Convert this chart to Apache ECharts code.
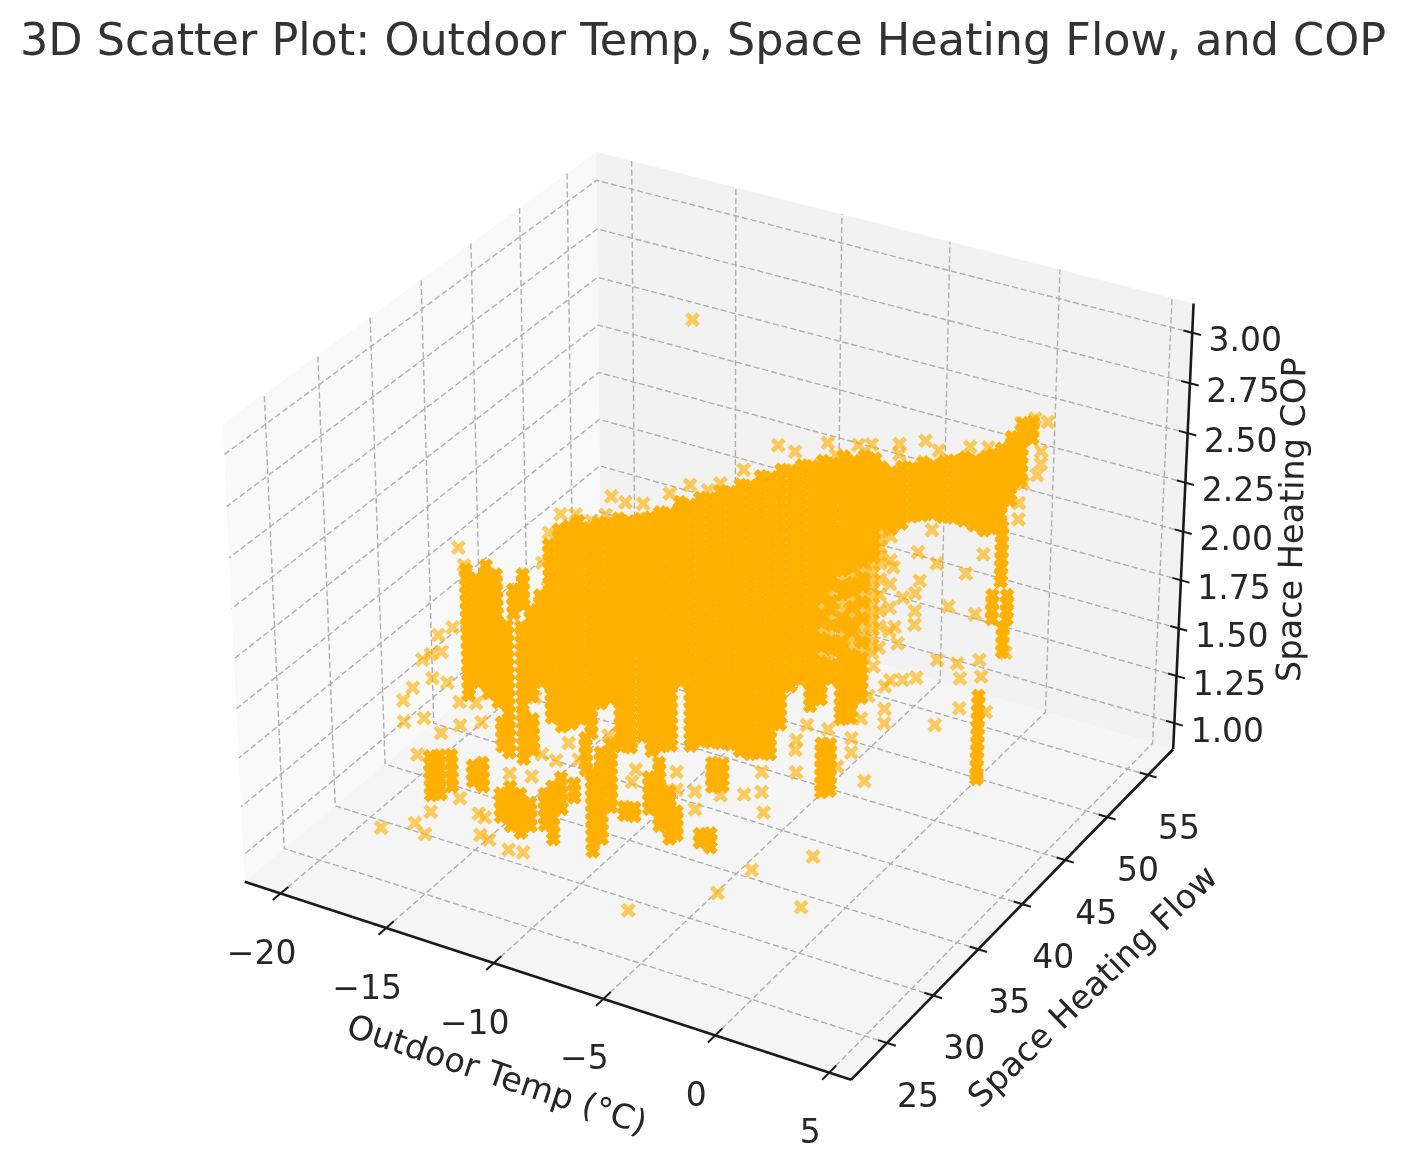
<!DOCTYPE html>
<html><head><meta charset="utf-8"><style>html,body{margin:0;background:#fff}#c{width:1406px;height:1173px}</style>
<script src="https://cdn.jsdelivr.net/npm/echarts@6/dist/echarts.min.js"></script></head><body><div id="c"></div>
<script>
const titleText='3D Scatter Plot: Outdoor Temp, Space Heating Flow, and COP';
const tempTicks=[-20,-15,-10,-5,0,5];
const flowTicks=[25,30,35,40,45,50,55];
const copTicks=[1,1.25,1.5,1.75,2,2.25,2.5,2.75,3];
const tempLim=[-21.72,5.95], flowLim=[21.2,58.13], copLim=[0.861,3.144];
// readings grouped as [temp, flow, cop, cop, ...]; dense = where marks overlap until the colour saturates
const denseReadings=[
[-14.95,35,1.80,1.76,1.72,1.68,1.64,1.60,1.56,1.52,1.48,1.44,1.40,1.35,1.31,1.27,1.23,1.19,1.15,1.12],
[-14.49,35,1.90,1.86,1.82,1.78,1.74,1.70,1.66,1.62,1.58,1.54,1.50,1.46,1.34,1.30,1.26,1.22,1.18],
[-14.03,35,1.99,1.95,1.91,1.87,1.83,1.79,1.75,1.71,1.67,1.63,1.59,1.55],
[-13.57,35,2.26,2.22,2.18,2.14,2.10,2.06,2.02,1.98,1.94,1.90,1.86,1.82,1.78,1.74,1.70,1.66,1.62,1.58,1.54,1.50,1.46,1.42,1.38],
[-13.1,35,2.35,2.31,2.27,2.23,2.19,2.15,2.11,2.07,2.03,1.99,1.95,1.91,1.87,1.83,1.79,1.75,1.71,1.67,1.63,1.59,1.55,1.51,1.47,1.43,1.39,1.35],
[-12.65,35,2.38,2.34,2.30,2.26,2.22,2.18,2.14,2.10,2.06,2.02,1.98,1.94,1.90,1.86,1.82,1.78,1.74,1.70,1.66,1.62,1.58,1.54,1.50,1.46,1.42,1.38],
[-12.19,35,2.42,2.38,2.34,2.30,2.26,2.22,2.18,2.14,2.10,2.06,2.02,1.98,1.94,1.90,1.86,1.82,1.78,1.74,1.70,1.66,1.62,1.58,1.54,1.50,1.46,1.42],
[-11.72,35,2.40,2.36,2.32,2.28,2.24,2.20,2.16,2.12,2.08,2.04,2.00,1.96,1.92,1.88,1.84,1.80,1.76,1.72,1.68,1.64,1.60,1.56,1.52,1.48,1.44,1.40,1.36],
[-11.26,35,2.44,2.40,2.36,2.32,2.28,2.24,2.20,2.16,2.12,2.08,2.04,2.00,1.96,1.92,1.88,1.84,1.80,1.76,1.72,1.68,1.64,1.60,1.56,1.53],
[-10.8,35,2.45,2.41,2.37,2.33,2.29,2.25,2.21,2.17,2.13,2.09,2.05,2.01,1.97,1.93,1.89,1.85,1.81,1.77,1.73,1.69,1.65,1.61,1.57],
[-10.34,35,2.49,2.45,2.41,2.37,2.33,2.29,2.25,2.21,2.17,2.13,2.09,2.05,2.01,1.97,1.93,1.89,1.85,1.81,1.77,1.73,1.69,1.65,1.61,1.57,1.53,1.49,1.45,1.41,1.37,1.34],
[-9.88,35,2.49,2.45,2.41,2.37,2.33,2.29,2.25,2.21,2.17,2.13,2.09,2.05,2.01,1.97,1.93,1.89,1.85,1.81,1.77,1.73,1.69,1.65,1.61,1.57,1.53,1.49,1.45,1.41,1.37,1.35],
[-11.59,40,2.25,2.21,2.17,2.13,2.09,2.05,2.01,1.97,1.93,1.89,1.85,1.81,1.77,1.73,1.69,1.65,1.61,1.57,1.53,1.49,1.45,1.41,1.37,1.33,1.29,1.25,1.21,1.17,1.13],
[-11.13,40,2.27,2.23,2.19,2.15,2.11,2.07,2.03,1.99,1.95,1.91,1.87,1.83,1.79,1.75,1.71,1.67,1.63,1.59,1.55,1.51,1.47,1.43,1.39,1.35,1.31,1.27,1.23,1.19,1.15,1.11,1.07],
[-10.67,40,2.31,2.27,2.23,2.19,2.15,2.11,2.07,2.03,1.99,1.95,1.91,1.87,1.83,1.79,1.75,1.71,1.67,1.63,1.59,1.55,1.51,1.47,1.43,1.39,1.35,1.31,1.27,1.23,1.19,1.15,1.11],
[-10.21,40,2.32,2.28,2.24,2.20,2.16,2.12,2.08,2.04,2.00,1.96,1.92,1.88,1.84,1.80,1.76,1.72,1.68,1.64,1.60,1.56,1.52,1.48,1.44,1.40,1.36,1.32,1.28,1.24,1.20,1.16,1.13],
[-9.75,40,2.39,2.35,2.31,2.27,2.23,2.19,2.15,2.11,2.07,2.03,1.99,1.95,1.91,1.87,1.83,1.79,1.75,1.71,1.67,1.63,1.59,1.55,1.51,1.48],
[-9.29,40,2.39,2.35,2.31,2.27,2.23,2.19,2.15,2.11,2.07,2.03,1.99,1.95,1.91,1.87,1.83,1.79,1.75,1.71,1.67,1.63,1.59,1.55,1.51,1.47,1.43,1.39,1.35,1.31,1.27,1.23,1.19,1.16],
[-8.82,40,2.44,2.40,2.36,2.32,2.28,2.24,2.20,2.16,2.12,2.08,2.04,2.00,1.96,1.92,1.88,1.84,1.80,1.76,1.72,1.68,1.64,1.60,1.56,1.52,1.48,1.44,1.40,1.36,1.32,1.28,1.24,1.20],
[-8.36,40,2.45,2.41,2.37,2.33,2.29,2.25,2.21,2.17,2.13,2.09,2.05,2.01,1.97,1.93,1.89,1.85,1.81,1.77,1.73,1.69,1.65,1.61,1.57,1.53,1.49,1.45,1.41,1.37,1.33,1.29,1.25,1.21],
[-7.9,40,2.50,2.46,2.42,2.38,2.34,2.30,2.26,2.22,2.18,2.14,2.10,2.06,2.02,1.98,1.94,1.90,1.86,1.82,1.78,1.74,1.70,1.66,1.62,1.58,1.54,1.50,1.46,1.42,1.38,1.34,1.30,1.26,1.22],
[-7.44,40,2.51,2.47,2.43,2.39,2.35,2.31,2.27,2.23,2.19,2.15,2.11,2.07,2.03,1.99,1.95,1.91,1.87,1.83,1.79,1.75,1.71,1.67,1.63,1.59,1.55,1.51,1.47,1.43,1.39,1.35,1.31,1.27,1.23],
[-6.98,40,2.56,2.52,2.48,2.44,2.40,2.36,2.32,2.28,2.24,2.20,2.16,2.12,2.08,2.04,2.00,1.96,1.92,1.88,1.84,1.80,1.76,1.72,1.68,1.64,1.60,1.56,1.52,1.48,1.44,1.40,1.36,1.32,1.28,1.24,1.21],
[-6.52,40,2.57,2.53,2.49,2.45,2.41,2.37,2.33,2.29,2.25,2.21,2.17,2.13,2.09,2.05,2.01,1.97,1.93,1.89,1.85,1.81,1.77,1.73,1.69,1.65,1.61,1.57,1.53,1.49,1.45,1.41,1.37,1.33,1.29,1.25,1.21],
[-6.06,40,2.63,2.59,2.55,2.51,2.47,2.43,2.39,2.35,2.31,2.27,2.23,2.19,2.15,2.11,2.07,2.03,1.99,1.95,1.91,1.87,1.83,1.79,1.75,1.71,1.67,1.63,1.59,1.55,1.51,1.47,1.43,1.39,1.35,1.31,1.27,1.23],
[-5.6,40,2.64,2.60,2.56,2.52,2.48,2.44,2.40,2.36,2.32,2.28,2.24,2.20,2.16,2.12,2.08,2.04,2.00,1.96,1.92,1.88,1.84,1.80,1.76,1.72,1.68,1.64,1.60,1.56,1.52,1.48,1.44,1.40,1.36,1.32,1.28,1.24],
[-5.14,40,2.69,2.65,2.61,2.57,2.53,2.49,2.45,2.41,2.37,2.33,2.29,2.25,2.21,2.17,2.13,2.09,2.05,2.01,1.97,1.93,1.89,1.85,1.81,1.77,1.73,1.69,1.65,1.61,1.57,1.53,1.49,1.45,1.41],
[-4.68,40,2.70,2.66,2.62,2.58,2.54,2.50,2.46,2.42,2.38,2.34,2.30,2.26,2.22,2.18,2.14,2.10,2.06,2.02,1.98,1.94,1.90,1.86,1.82,1.78,1.74,1.70,1.66,1.62],
[-4.22,40,2.74,2.70,2.66,2.62,2.58,2.54,2.50,2.46,2.42,2.38,2.34,2.30,2.26,2.22,2.18,2.14,2.10,2.06,2.02,1.98,1.94,1.90,1.86,1.82,1.78,1.74,1.70,1.67],
[-3.76,40,2.75,2.71,2.67,2.63,2.59,2.55,2.51,2.47,2.43,2.39,2.35,2.31,2.27,2.23,2.19,2.15,2.11,2.07,2.03,1.99,1.95,1.91,1.87,1.83,1.79,1.75,1.71,1.67,1.63,1.59,1.55],
[-3.29,40,2.79,2.75,2.71,2.67,2.63,2.59,2.55,2.51,2.47,2.43,2.39,2.35,2.31,2.27,2.23,2.19,2.15,2.11,2.03,1.99,1.91,1.87,1.79,1.75,1.71,1.67,1.63,1.60],
[-2.83,40,2.79,2.75,2.71,2.67,2.63,2.59,2.55,2.51,2.47,2.43,2.39,2.35,2.31,2.27,2.23,2.19,2.11,2.07,1.99,1.91,1.87,1.79,1.75,1.72],
[-2.37,40,2.84,2.80,2.76,2.72,2.68,2.64,2.60,2.56,2.52,2.48,2.44,2.40,2.36,2.32,2.28,2.20,2.16,2.04,2.00,1.92,1.88,1.84,1.80,1.76,1.72,1.68,1.64,1.60,1.56,1.53],
[-1.91,40,2.83,2.79,2.75,2.71,2.67,2.63,2.59,2.55,2.51,2.47,2.43,2.39,2.35,2.31,2.23,2.19,2.11,2.03,1.99,1.87,1.83,1.79,1.75,1.71,1.67,1.63,1.59,1.55],
[-1.45,40,2.87,2.83,2.79,2.75,2.71,2.67,2.63,2.59,2.55,2.51,2.47,2.43,2.39,2.35,2.27,2.23,2.15,2.07,1.95,1.87,1.83,1.79,1.75,1.71,1.67],
[-0.99,40,2.87,2.83,2.79,2.75,2.71,2.67,2.63,2.59,2.55,2.51,2.47,2.43,2.39],
[-2.7,45,2.58,2.54,2.50,2.46,2.42,2.38,2.34,2.30],
[-2.24,45,2.57,2.53,2.49,2.45,2.41,2.37,2.33,2.29],
[-1.78,45,2.61,2.57,2.53,2.49,2.45,2.41,2.37,2.33],
[-1.32,45,2.62,2.58,2.54,2.50,2.46,2.42,2.38],
[-0.86,45,2.66,2.62,2.58,2.54,2.50,2.46,2.42,2.40],
[-0.4,45,2.66,2.62,2.58,2.54,2.50,2.46,2.42],
[0.06,45,2.69,2.65,2.61,2.57,2.53,2.49,2.45,2.42],
[0.52,45,2.71,2.67,2.63,2.59,2.55,2.51,2.47,2.43],
[0.99,45,2.74,2.70,2.66,2.62,2.58,2.54,2.50,2.46,2.43],
[1.45,45,2.74,2.70,2.66,2.62,2.58,2.54,2.50,2.46,2.42],
[1.91,45,2.77,2.73,2.69,2.65,2.61,2.57,2.53,2.49,2.45,2.41],
[2.2,45,2.79,2.75,2.71,2.67,2.63,2.59,2.55,2.51,2.47,2.43],
[2.6,45,2.83,2.79,2.75,2.71,2.67,2.63,2.59,2.55,2.51,2.47,2.44],
[3,45,2.90,2.86,2.82,2.78,2.74,2.70,2.66,2.62,2.59],
[3.45,45,2.98,2.94,2.90,2.86,2.82,2.78,2.74,2.70],
[3.9,45,3.00,2.96,2.92],
[-17.03,30,1.28,1.24,1.20,1.16,1.12,1.08],[-16.57,30,1.30,1.26,1.22,1.18,1.14,1.10],[-16.02,30,1.32,1.28,1.24,1.20,1.16],
[-15,30,1.30,1.26,1.22],[-14.54,30,1.33,1.29,1.25,1.21],
[-15.1,30,2.29,2.25,2.21,2.17,2.13,2.09,2.05,2.01,1.97,1.93,1.89,1.85,1.81,1.77,1.73,1.69,1.66],
[-14.63,30,2.26,2.22,2.18,2.14,2.10,2.06,2.02,1.98,1.94,1.90,1.86,1.82,1.78,1.74],
[-14.17,30,2.34,2.30,2.26,2.22,2.18,2.14,2.10,2.06,2.02,1.98,1.94,1.90,1.86,1.82,1.78,1.74,1.70],
[-13.71,30,2.31,2.27,2.23,2.19,2.15,2.11,2.07,2.03,1.99,1.95,1.91,1.87,1.83,1.79,1.75,1.71,1.67],
[-13.25,30,2.07,2.03,1.99,1.95,1.91,1.87,1.83,1.79,1.75,1.71,1.67,1.63,1.59,1.55,1.51,1.47,1.43],
[-12.47,30,2.35,2.31,2.27,2.23,2.20],[-12.93,30,2.26,2.22,2.18,2.14],[-13.57,30,1.57,1.53,1.49,1.45],
[-13.71,30,1.20,1.16,1.12,1.08],[-13.25,30,1.25,1.21,1.17,1.13,1.09,1.05],[-12.79,30,1.23,1.19,1.15,1.11,1.07,1.03],[-12.33,30,1.20,1.16,1.12,1.08],
[-11.27,30,1.32,1.28,1.24,1.20,1.16,1.12,1.08,1.05],[-11.64,30,1.27,1.23,1.19,1.15,1.11],[-10.86,30,1.38,1.34,1.30,1.26,1.22],[-10.26,30,1.37,1.33,1.30],
[-9.7,30,1.62,1.58,1.54,1.50,1.46],
[-9.43,30,1.45,1.41,1.37,1.33,1.29,1.25,1.21,1.17,1.13,1.09,1.05],[-9.01,30,1.57,1.53,1.49,1.45,1.41,1.37,1.33,1.29,1.25,1.21,1.17,1.13],[-8.55,30,1.63,1.59,1.55,1.51,1.47,1.43,1.39,1.35,1.31],
[-7.95,30,1.33,1.29],[-7.49,30,1.34,1.30],[-6.8,30,1.52,1.48,1.44,1.40,1.36],[-6.34,30,1.61,1.57,1.53,1.49,1.45,1.41,1.37,1.33,1.29],[-5.88,30,1.48,1.44,1.40,1.36,1.32,1.28,1.24],[-5.56,30,1.39,1.35,1.31,1.27],
[-4.5,30,1.31,1.27],[-4.03,30,1.33,1.29,1.26],[-3.94,30,1.69,1.65,1.61,1.57],[-3.48,30,1.70,1.66,1.62,1.59],
[0.9,30,1.95,1.91,1.87,1.83,1.79,1.75,1.71],[1.27,30,1.96,1.92,1.88,1.84,1.80,1.76,1.73],
[3.76,40,1.85,1.81,1.77,1.73,1.69,1.65,1.61,1.57,1.53,1.49,1.45,1.43],
[2.7,45,2.45,2.41,2.37,2.33,2.29,2.25,2.21,2.18],[2.35,45,2.10,2.06,2.02,1.98],[2.85,45,1.95,1.91,1.87,1.83],[3,45,2.12,2.08,2.04,2.00]
];
// readings where individual marks still show
const thinReadings=[
[-3.29,40,2.07,1.95,1.83],
[-2.83,40,2.15,2.03,1.95,1.83],
[-2.37,40,2.24,2.12,2.08,1.96],
[-1.91,40,2.27,2.15,2.07,1.95,1.91],
[-1.45,40,2.31,2.19,2.11,2.03,1.99,1.91],
[-0.99,40,2.35,2.31,2.27,2.23,2.19,2.15,2.11,2.07,2.03,1.99,1.95,1.91],
[-2.7,45,2.26,2.22,2.18,2.14,2.10,2.02,1.94,1.86,1.78,1.67],
[-2.24,45,2.25,2.13,2.01,1.89,1.77]
];
const looseReadings=[
[-13.53,50,2.81],[-16.99,25,1.135],[-15.37,25,1.215],[-14.91,25,1.175],[-5.55,25,1.115],[-1.54,25,1.345],[-0.03,25,1.515],[2.14,25,1.405],[2.64,25,1.675],[4.8,25,2.12],
[1.86,40,1.64],[-0.16,40,1.80],[0.39,40,1.82],[0.99,40,1.85],[1.91,40,1.97],[2.79,40,1.98],[2.93,40,1.91],[3.76,40,2.03],[3.85,40,1.95],[2.93,40,1.76],[3,45,1.83],[4.1,40,1.78],
[1.9,45,2.29],[1.15,45,2.17],[0.4,45,1.98],[1.6,45,1.98],[-0.15,45,2.18],[-0.9,45,2.07],[-1.1,45,2],[-1.1,45,1.91],[-1.1,45,1.84],[-1,45,2.21],[-0.4,45,2.34],[-1.85,45,1.72],[-2,45,1.80],[-1.65,45,1.96],[-2.1,45,2.10],
[-7.4,45,2.55],[-6.62,45,2.54],[-5.14,45,2.63],[-4.77,45,2.58],[-3.76,45,2.66],[-3.16,45,2.68],[-1.92,45,2.72],[-1.92,45,2.67],[-0.77,45,2.77],[-0.17,45,2.74],[1.2,45,2.8],[2,45,2.82],
[-6.84,40,2.64],[-7.9,40,2.54],[-9.29,40,2.49],[-8.46,40,2.49],[-10.21,40,2.42],[-11.45,40,2.33],
[-10.02,35,2.58],[-10.66,35,2.59],[-10.94,35,2.49],[-11.59,35,2.44],[-12.32,35,2.45],[-13.01,35,2.43],[-13.57,35,2.32],[-13.89,35,2.16],[-13.66,35,2.04],
[4.55,45,3.02],[4,45,3.02],[3.4,45,2.98],[4.3,45,2.87],[4.3,45,2.81],[4.15,45,2.75],[3.55,45,2.69],[3.4,45,2.59],[3.4,45,2.51],
[-15.42,30,2.39],[-15.18,30,2.31],[-15.78,30,1.98],[-16.47,30,1.92],[-16.34,30,1.84],[-16.84,30,1.81],[-17.26,30,1.77],[-16.8,30,1.69],[-16.11,30,1.69],[-17.76,30,1.61],[-18.23,30,1.53],[-18.23,30,1.42],[-17.26,30,1.47],[-15.55,30,1.61],[-14.77,30,1.63],[-15.55,30,1.49],[-14.54,30,1.54],[-16.47,30,1.42],[-17.63,30,1.27],[-15.65,30,1.11],[-17.07,30,0.99],[-14.77,30,1.06],[-14.49,30,1.05],[-14.72,30,0.95],[-14.31,30,0.94],[-13.39,30,0.92],[-12.7,30,0.93],[-12,30,1.75],[-11.73,30,1.47],[-12.23,30,1.34],[-13.25,30,1.32],[-11.08,30,1.46],[-10.48,30,1.57],[-10.02,30,1.50],[-8.64,30,1.67],[-7.58,30,1.47],[-7.4,30,1.54],[-5.55,30,1.59],[-5.55,30,1.50],[-4.72,30,1.52],[-4.72,30,1.43],[-3.89,30,1.63],
[-0.25,30,1.88],[-0.21,30,1.77],[1.59,30,1.86],[2.19,30,1.95],[3.6,30,2.14],[-1.64,30,1.52],[-2.51,30,1.58],[-1.73,30,1.62],[-1.73,30,1.72],[-3.57,30,1.54],[0.25,30,2.02],[1.18,30,2.03],[-0.21,30,1.93],[2.6,30,2.13],[3.6,30,2.21],[2.9,30,2.25],[2.2,30,2.02],[3.6,30,2.32],[3.1,30,2.40]
];

// matplotlib-style perspective projection (elev 30, azim -60)
const k=1.8294640721620434*25/24/Math.hypot(4,4,3), box=[4*k,4*k,3*k];
const el=30*Math.PI/180, az=-60*Math.PI/180;
const W=[Math.cos(el)*Math.cos(az),Math.cos(el)*Math.sin(az),Math.sin(el)];
const U=[-Math.sin(az),Math.cos(az),0];
const V=[W[1]*U[2]-W[2]*U[1],W[2]*U[0]-W[0]*U[2],W[0]*U[1]-W[1]*U[0]];
const E=[0,1,2].map(i=>box[i]/2+10*W[i]);
const dot=(a,b)=>a[0]*b[0]+a[1]*b[1]+a[2]*b[2];
function project(t,f,c){
  const p=[(t-tempLim[0])/(tempLim[1]-tempLim[0])*box[0],(f-flowLim[0])/(flowLim[1]-flowLim[0])*box[1],(c-copLim[0])/(copLim[1]-copLim[0])*box[2]];
  const r=[p[0]-E[0],p[1]-E[1],p[2]-E[2]], d=-dot(r,W);
  return [dot(r,U)/d,dot(r,V)/d];
}
const S=5835, OX=717.5, OY=593.6, CW=1406, CH=1173;
const [x0,x1]=tempLim,[y0,y1]=flowLim,[z0,z1]=copLim;
const expand=rows=>{const out=[];rows.forEach(r=>{for(let i=2;i<r.length;i++)out.push(project(r[0],r[1],r[i]));});return out;};
const densePoints=expand(denseReadings);
const thinPoints=expand(thinReadings);
looseReadings.forEach(r=>thinPoints.push(project(r[0],r[1],r[2])));

const panes=[
 {c:'#f9f9f9',v:[[x0,y0,z0],[x0,y1,z0],[x0,y1,z1],[x0,y0,z1]]},
 {c:'#f2f2f2',v:[[x0,y1,z0],[x1,y1,z0],[x1,y1,z1],[x0,y1,z1]]},
 {c:'#f5f5f5',v:[[x0,y0,z0],[x1,y0,z0],[x1,y1,z0],[x0,y1,z0]]}
];
const grid=[],ticks=[];
tempTicks.forEach(t=>{grid.push([[t,y0,z0],[t,y1,z0],[t,y1,z1]]);ticks.push([[t,y0-0.02*(y1-y0),z0],[t,y0+0.02*(y1-y0),z0]]);});
flowTicks.forEach(f=>{grid.push([[x1,f,z0],[x0,f,z0],[x0,f,z1]]);ticks.push([[x1-0.014*(x1-x0),f,z0],[x1+0.014*(x1-x0),f,z0]]);});
copTicks.forEach(c=>{grid.push([[x1,y1,c],[x0,y1,c],[x0,y0,c]]);ticks.push([[x1-0.014*(x1-x0),y1,c],[x1+0.014*(x1-x0),y1,c]]);});
const spines=[[[x0,y0,z0],[x1,y0,z0]],[[x1,y0,z0],[x1,y1,z0]],[[x1,y1,z0],[x1,y1,z1]]];
const pj=a=>project(a[0],a[1],a[2]);
const labels=[];
const fs=33;
tempTicks.forEach(t=>labels.push({p:project(t,y0,z0),dx:-19,dy:62,s:String(t).replace('-','\u2212'),rot:0,fs}));
flowTicks.forEach(f=>labels.push({p:project(x1,f,z0),dx:31,dy:55,s:String(f),rot:0,fs}));
copTicks.forEach(c=>labels.push({p:project(x1,y1,c),dx:53,dy:10,s:c.toFixed(2),rot:0,fs}));
labels.push({p:project(-7.5,y0,z0),dx:-52,dy:96,s:'Outdoor Temp (\u00b0C)',rot:-18.5,fs:33.5});
labels.push({p:project(x1,40,z0),dx:72,dy:84,s:'Space Heating Flow',rot:44,fs:33.5});
labels.push({p:project(x1,y1,2),dx:111,dy:-12,s:'Space Heating COP',rot:89,fs:33.5});

const frameSeries=(z,data,renderItem)=>({type:'custom',coordinateSystem:'cartesian2d',silent:true,z,clip:false,animation:false,data:data.map((_,i)=>[i,0]),encode:{x:0,y:1},renderItem:(p,api)=>renderItem(data[p.dataIndex],api)});
const poly=(api,arr)=>arr.map(a=>api.coord(pj(a)));
const chart=echarts.init(document.getElementById('c'),null,{renderer:'canvas'});
chart.setOption({
 animation:false,backgroundColor:'#fff',
 title:{text:titleText,left:'center',top:16,textStyle:{fontFamily:'DejaVu Sans',fontWeight:'normal',fontSize:44.5,color:'#333333'}},
 grid:{left:0,right:0,top:0,bottom:0},
 xAxis:{type:'value',show:false,min:(0-OX)/S,max:(CW-OX)/S},
 yAxis:{type:'value',show:false,min:(OY-CH)/S,max:OY/S},
 series:[
  frameSeries(1,panes,(d,api)=>({type:'polygon',shape:{points:poly(api,d.v)},style:{fill:d.c}})),
  frameSeries(2,grid,(d,api)=>({type:'polyline',shape:{points:poly(api,d)},style:{fill:null,stroke:'#b0b0b0',lineWidth:1.4,lineDash:[6,3]}})),
  {type:'scatter',z:3,silent:true,animation:false,data:thinPoints,symbol:'path://M23 0L50 27L77 0L100 23L73 50L100 77L77 100L50 73L23 100L0 77L27 50L0 23Z',symbolSize:15,itemStyle:{color:'#FFB000',opacity:0.62}},
  {type:'scatter',z:3,silent:true,animation:false,data:densePoints,symbol:'path://M30 0L50 20L70 0L100 30L80 50L100 70L70 100L50 80L30 100L0 70L20 50L0 30Z',symbolSize:15,itemStyle:{color:'#FFB000',opacity:1}},
  frameSeries(4,spines,(d,api)=>({type:'polyline',shape:{points:poly(api,d)},style:{fill:null,stroke:'#1a1a1a',lineWidth:2.6}})),
  frameSeries(4,ticks,(d,api)=>({type:'polyline',shape:{points:poly(api,d)},style:{fill:null,stroke:'#1a1a1a',lineWidth:2}})),
  frameSeries(5,labels,(d,api)=>{const c=api.coord(d.p);return {type:'text',x:c[0]+d.dx,y:c[1]+d.dy,rotation:d.rot*Math.PI/180,style:{text:d.s,fontFamily:'DejaVu Sans',fontSize:d.fs,fill:'#262626',align:'center',verticalAlign:'middle'}};})
 ]
});
</script></body></html>
